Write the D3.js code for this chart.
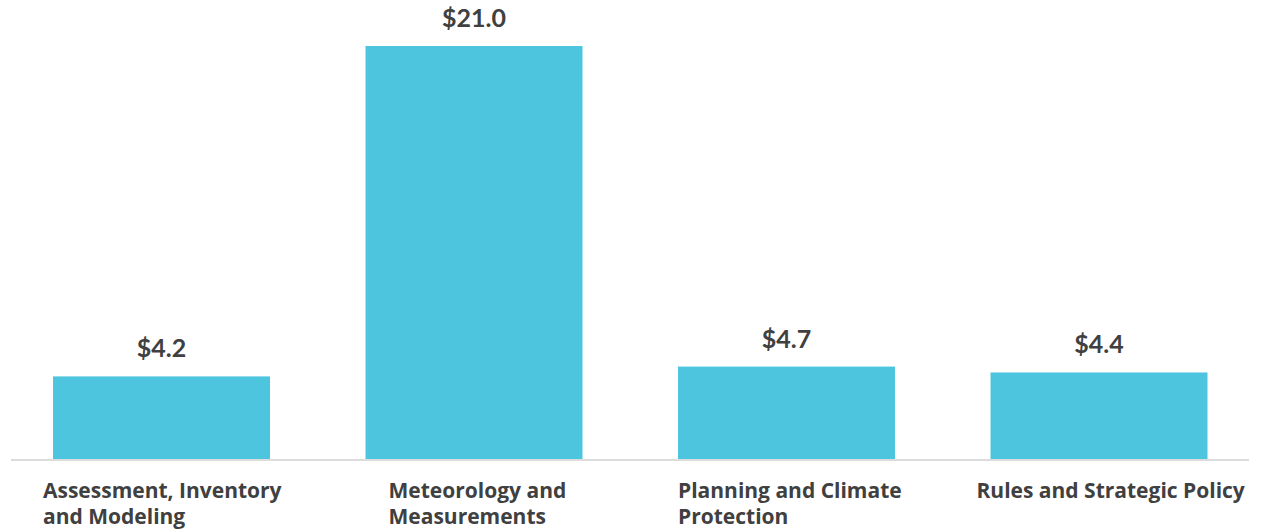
<!DOCTYPE html>
<html><head><meta charset="utf-8">
<script src="https://cdn.jsdelivr.net/npm/d3@7"></script>
<style>html,body{margin:0;padding:0;background:#fff;overflow:hidden}</style>
</head><body>
<svg id="chart" width="1264" height="531"></svg>
<script>
const categories = ["Assessment, Inventory and Modeling", "Meteorology and Measurements", "Planning and Climate Protection", "Rules and Strategic Policy"];
const labelLines = [["Assessment, Inventory", "and Modeling"], ["Meteorology and", "Measurements"], ["Planning and Climate", "Protection"], ["Rules and Strategic Policy"]];
const values = [4.2, 21.0, 4.7, 4.4];
const valueLabels = ["$4.2", "$21.0", "$4.7", "$4.4"];

const svg = d3.select("#chart");
const baseY = 459;
const x = d3.scaleBand().domain(categories).range([5.25, 1255.25]).paddingInner(0.3056).paddingOuter(0.1528);
const y = d3.scaleLinear().domain([0, 21]).range([baseY, 46]);

const textColor = "#404040";
const font = "Lato, 'Open Sans', sans-serif";
const labelFont = "'Open Sans', Lato, sans-serif";

svg.selectAll("rect.bar").data(values).join("rect")
  .attr("class", "bar")
  .attr("x", (d, i) => x(categories[i]))
  .attr("width", x.bandwidth())
  .attr("y", d => y(d))
  .attr("height", d => baseY - y(d))
  .attr("fill", "#4ec5df");

// axis line
svg.append("line").attr("x1", 11).attr("x2", 1249).attr("y1", baseY + 1).attr("y2", baseY + 1)
  .attr("stroke", "#dcdcdc").attr("stroke-width", 2);

// value labels
svg.selectAll("text.val").data(values).join("text")
  .attr("class", "val")
  .attr("x", (d, i) => x(categories[i]) + x.bandwidth() / 2)
  .attr("y", d => y(d) - 19)
  .attr("text-anchor", "middle")
  .attr("font-family", font).attr("font-weight", 700).attr("font-size", 25)
  .attr("fill", textColor)
  .text((d, i) => valueLabels[i]);

// category labels: left-aligned blocks
const labelLeftOffset = [-10, 23, 0, -14];
categories.forEach((c, i) => {
  const t = svg.append("text")
    .attr("font-family", labelFont).attr("font-weight", 700).attr("font-size", 21)
    .attr("fill", textColor);
  labelLines[i].forEach((line, j) => {
    t.append("tspan").attr("x", x(c) + labelLeftOffset[i]).attr("y", 498 + j * 26).text(line);
  });
});
</script>
</body></html>
